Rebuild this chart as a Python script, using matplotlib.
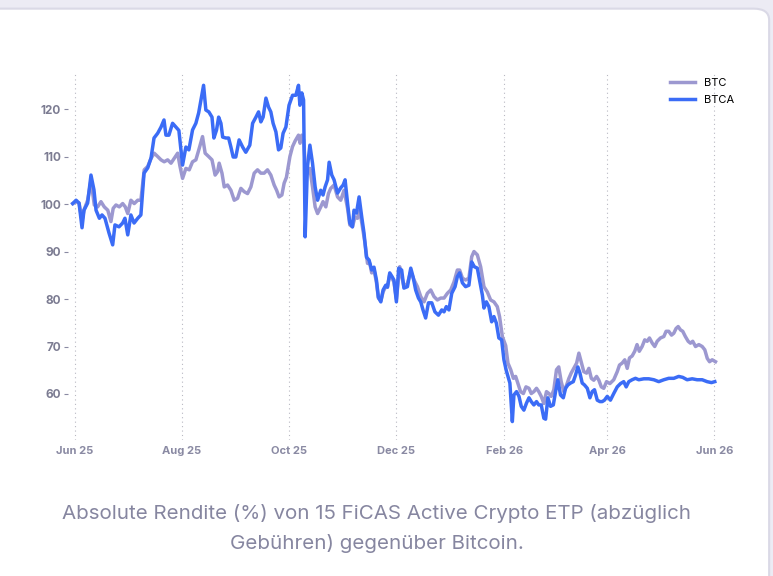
import pandas as pd
import matplotlib
matplotlib.use("Agg")
import matplotlib.pyplot as plt
import matplotlib.dates as mdates
from matplotlib.patches import FancyBboxPatch

# days since 1 Jun 2025 (indexed to 100)
btca_days = [-1.3, 0.6, 2.3, 4.0, 5.1, 7.2, 9.1, 10.8, 12.0, 13.9, 15.4, 17.1, 19.4, 21.5, 22.8,
             25.1, 27.2, 28.5, 30.1, 31.9, 33.7, 35.8, 37.6, 39.4, 41.5, 43.4, 45.1, 47.2, 49.1,
             50.8, 51.9, 53.6, 55.7, 57.6, 59.3, 61.4, 63.3, 65.0, 67.1, 69.0, 70.6, 71.9, 73.4,
             74.7, 76.4, 78.2, 79.3, 80.8, 82.0, 83.3, 84.3, 86.1, 87.7, 89.0, 90.3, 91.8, 93.7,
             95.7, 97.5, 99.8, 101.4, 103.3, 104.8, 106.1, 107.4, 109.0, 110.5, 111.8, 113.1,
             114.7, 116.2, 117.5, 118.8, 120.4, 122.2, 124.2, 126.1, 127.6, 128.4, 129.5, 130.5,
             131.4, 132.7, 134.1, 135.6, 137.1, 138.5, 140.3, 141.6, 142.8, 144.2, 145.1, 146.6,
             147.9, 149.9, 151.7, 153.1, 154.2, 155.6, 156.9, 158.4, 159.3, 160.7, 162.2, 163.7,
             165.0, 166.4, 167.9, 169.4, 170.7, 172.1, 173.2, 174.6, 175.9, 177.4, 178.4, 179.7,
             181.2, 182.1, 183.5, 184.8, 186.5, 187.8, 189.8, 191.7, 193.0, 194.5, 196.1, 197.4,
             198.7, 200.2, 201.8, 203.7, 205.5, 207.5, 209.4, 210.7, 212.0, 213.5, 215.1, 217.0,
             218.3, 219.6, 221.2, 223.0, 224.9, 226.5, 228.0, 229.7, 231.0, 232.6, 233.5, 234.9,
             236.3, 237.9, 239.2, 240.6, 242.0, 243.6, 244.9, 246.2, 248.3, 249.7, 250.6, 252.1,
             253.5, 254.8, 256.3, 257.8, 259.2, 260.5, 262.0, 263.5, 264.8, 266.2, 267.7, 268.7,
             270.0, 271.5, 273.1, 274.4, 275.7, 277.2, 278.8, 280.1, 281.4, 282.9, 284.5, 285.8,
             287.1, 288.3, 289.6, 290.9, 292.5, 294.0, 295.3, 296.6, 298.2, 299.7, 301.0, 302.3,
             303.9, 305.7, 307.6, 309.6, 311.5, 313.3, 314.7, 316.2, 318.1, 320.0, 321.9, 324.8,
             327.6, 330.5, 333.3, 336.2, 339.0, 341.9, 344.7, 347.0, 349.5, 352.4, 355.2, 358.1,
             360.9, 363.4, 365.3]
btca_vals = [100.1, 100.8, 100.2, 95.0, 98.7, 100.2, 106.1, 103.0, 98.7, 97.0, 97.7, 97.0, 93.9, 91.4, 95.6,
             95.2, 96.0, 97.0, 93.5, 97.7, 96.0, 97.0, 97.7, 106.5, 107.6, 109.7, 113.9, 114.9, 116.2,
             117.7, 114.5, 114.5, 117.0, 116.2, 115.5, 108.2, 112.0, 111.4, 115.6, 117.0, 119.2, 121.9, 125.0,
             119.8, 119.4, 118.3, 113.9, 115.6, 118.3, 117.0, 114.1, 113.9, 113.9, 112.0, 109.9, 109.9, 113.5,
             112.0, 110.9, 112.4, 117.0, 118.3, 119.4, 117.3, 118.3, 122.3, 120.4, 119.4, 117.0,
             115.2, 111.4, 111.8, 114.9, 116.2, 120.8, 122.9, 122.9, 125.0, 120.8, 123.4, 121.9,
             93.1, 107.8, 112.4, 108.6, 103.6, 100.8, 102.9, 101.9, 103.6, 105.1, 108.8, 106.1,
             105.1, 102.3, 103.4, 104.0, 105.1, 100.2, 96.0, 95.2, 98.7, 98.1, 101.5, 97.3,
             93.9, 88.8, 88.2, 86.1, 86.7, 84.0, 80.4, 79.4, 81.9, 82.9, 82.5, 85.5,
             84.6, 84.0, 79.4, 86.5, 86.1, 82.3, 82.6, 86.5, 84.7, 81.9, 80.2, 79.4,
             77.7, 76.0, 79.2, 79.2, 77.3, 76.6, 77.7, 77.3, 78.4, 77.7, 81.2, 82.6,
             84.7, 85.5, 83.4, 82.6, 82.9, 87.8, 86.8, 86.5, 84.0, 80.8, 78.1, 79.4,
             78.4, 75.2, 76.3, 74.9, 71.8, 71.4, 67.2, 65.0, 62.3, 54.2, 59.8, 60.5,
             59.5, 57.4, 56.6, 58.1, 59.2, 58.4, 57.7, 58.4, 57.7, 57.7, 54.9, 54.7,
             59.2, 57.4, 57.7, 60.5, 63.0, 59.8, 59.2, 61.2, 61.9, 62.3, 62.6, 64.0,
             65.7, 64.4, 62.3, 61.9, 61.2, 59.2, 60.5, 60.9, 58.7, 58.4, 58.4, 58.7,
             59.5, 58.7, 60.1, 61.5, 62.2, 62.6, 61.5, 62.6, 63.0, 63.3, 63.0, 63.2,
             63.2, 63.0, 62.6, 63.0, 63.3, 63.3, 63.7, 63.5, 63.0, 63.2, 63.0, 63.0,
             62.6, 62.4, 62.6]

btc_days = [-1.3, 0.6, 2.3, 4.0, 5.1, 7.2, 9.1, 11.0, 12.9, 14.8, 16.7, 18.7, 20.5, 21.8, 23.4,
            25.3, 27.2, 28.7, 30.1, 31.9, 33.8, 35.8, 37.6, 39.5, 41.5, 43.4, 45.2, 47.2, 49.1,
            50.9, 52.9, 54.8, 56.6, 58.6, 59.9, 61.4, 63.3, 65.2, 67.1, 69.0, 70.9, 72.8, 74.3,
            76.3, 78.2, 80.0, 81.4, 82.3, 83.9, 85.2, 87.1, 89.0, 90.9, 92.8, 94.7, 96.6, 98.5,
            100.4, 102.3, 104.2, 106.1, 108.0, 109.9, 111.8, 113.7, 115.1, 116.5, 118.1, 119.4,
            120.7, 122.7, 124.2, 125.7, 127.6, 128.5, 129.5, 130.5, 131.4, 132.7, 134.1, 135.6,
            137.1, 138.5, 140.3, 141.6, 143.2, 144.7, 146.0, 147.9, 149.9, 151.7, 153.6, 155.6,
            156.9, 158.4, 159.9, 161.3, 162.6, 164.1, 165.6, 167.0, 168.3, 169.4, 170.7, 172.1,
            173.2, 174.6, 175.9, 177.4, 178.4, 179.7, 181.2, 182.1, 183.5, 185.4, 187.8, 189.8,
            191.7, 193.6, 195.5, 197.4, 199.3, 201.2, 203.1, 205.0, 206.9, 208.8, 210.7, 212.6,
            214.5, 216.4, 218.3, 219.6, 221.2, 223.0, 224.9, 226.5, 227.8, 229.7, 231.6, 233.5,
            235.4, 237.3, 239.2, 241.1, 242.4, 244.0, 245.9, 247.2, 248.8, 250.3, 251.6, 252.9,
            254.4, 256.0, 257.5, 259.2, 260.5, 262.0, 263.5, 264.8, 266.2, 267.7, 269.2, 270.6,
            271.9, 273.4, 274.9, 276.2, 277.6, 279.1, 280.7, 282.0, 283.3, 284.8, 286.4, 287.7,
            289.0, 290.5, 292.1, 293.4, 294.8, 296.2, 297.8, 299.1, 300.5, 301.9, 303.5, 305.4,
            307.6, 309.6, 310.9, 312.4, 313.9, 315.3, 316.6, 318.1, 319.6, 320.9, 322.2, 323.8,
            325.3, 326.7, 328.0, 329.6, 331.0, 332.4, 334.3, 336.2, 337.5, 339.0, 340.6, 341.9,
            343.2, 344.4, 345.7, 347.0, 348.5, 350.1, 351.4, 352.7, 354.3, 356.2, 358.1, 359.6,
            361.0, 362.3, 363.8, 365.7]
btc_vals = [100.1, 100.5, 100.2, 96.5, 98.7, 100.8, 105.0, 99.8, 99.4, 100.5, 99.4, 98.7, 96.3, 99.1, 99.8,
            99.4, 100.1, 99.4, 98.0, 100.8, 100.1, 100.8, 100.8, 107.2, 107.9, 109.6, 110.7, 110.0, 109.3,
            108.9, 109.3, 108.6, 109.6, 110.7, 108.0, 105.4, 107.5, 107.2, 108.9, 109.3, 111.7, 114.2, 110.7,
            110.0, 109.3, 106.1, 106.8, 108.6, 106.5, 103.6, 104.0, 102.9, 100.8, 101.2, 103.3, 102.6, 102.2,
            103.6, 106.5, 107.2, 106.5, 106.5, 107.2, 106.1, 104.0, 102.9, 101.5, 101.9, 104.4,
            105.6, 110.0, 112.1, 113.3, 114.5, 112.8, 114.5, 113.5, 108.6, 106.5, 107.5, 103.6,
            99.4, 98.0, 99.4, 100.5, 99.4, 102.2, 103.3, 104.0, 101.5, 100.8, 102.9, 99.1,
            95.6, 95.2, 97.3, 97.0, 98.7, 95.2, 91.7, 87.5, 87.5, 85.5, 86.2, 83.5,
            80.2, 79.6, 81.5, 82.6, 82.5, 85.2, 84.2, 83.6, 80.0, 86.8, 82.6, 83.3,
            85.8, 84.0, 82.6, 80.5, 79.4, 81.2, 81.9, 80.5, 79.8, 80.2, 80.2, 81.2,
            81.9, 83.6, 86.1, 86.1, 84.4, 84.0, 84.4, 88.9, 90.0, 89.3, 86.8, 82.6,
            81.5, 79.8, 79.4, 78.4, 76.3, 72.1, 70.2, 66.5, 65.1, 63.3, 63.7, 62.2,
            60.5, 60.1, 61.5, 61.2, 60.1, 60.5, 61.2, 60.5, 59.5, 58.0, 60.5, 60.1,
            59.5, 60.9, 65.1, 65.7, 62.6, 60.5, 61.9, 63.3, 64.4, 65.4, 66.5, 68.6,
            66.8, 64.7, 64.4, 65.4, 63.3, 62.9, 63.7, 62.9, 61.5, 61.2, 62.6, 62.2,
            63.0, 64.7, 66.1, 66.5, 67.2, 65.4, 67.6, 68.0, 69.0, 70.4, 69.0, 70.0,
            71.4, 71.1, 71.8, 70.7, 70.0, 71.1, 71.8, 72.1, 73.2, 73.2, 72.4, 72.8,
            73.8, 74.2, 73.5, 73.2, 72.1, 71.1, 70.7, 71.1, 70.0, 70.4, 70.0, 69.3,
            67.5, 66.8, 67.2, 66.8]

start = pd.Timestamp("2025-06-01")
btc_dates = start + pd.to_timedelta(btc_days, unit="D")
btca_dates = start + pd.to_timedelta(btca_days, unit="D")

tick_dates = pd.to_datetime(["2025-06-01", "2025-08-01", "2025-10-01", "2025-12-01",
                             "2026-02-01", "2026-04-01", "2026-06-01"])
y_ticks = [60, 70, 80, 90, 100, 110, 120]

caption = ("Absolute Rendite (%) von 15 FiCAS Active Crypto ETP (abzüglich\n"
           "Gebühren) gegenüber Bitcoin.")

plt.rcParams["font.family"] = ["Inter", "DejaVu Sans"]

fig = plt.figure(figsize=(7.73, 5.76), dpi=100, facecolor="#ecebf4")

# white card behind the chart
card = FancyBboxPatch((-0.05, -0.1), 1.045, 1.085, boxstyle="round,pad=0,rounding_size=0.02",
                      transform=fig.transFigure, facecolor="white", edgecolor="#dad9e6",
                      linewidth=1.5, zorder=-10)
fig.patches.append(card)

ax = fig.add_axes([0.088, 0.236, 0.87, 0.639])
ax.set_zorder(5)
ax.patch.set_alpha(0)

ax.plot(btc_dates, btc_vals, color="#9c98d0", lw=2.5, label="BTC")
ax.plot(btca_dates, btca_vals, color="#3b6cf6", lw=2.5, label="BTCA")

ax.set_xlim(start - pd.Timedelta(days=4), start + pd.Timedelta(days=380))
ax.set_ylim(50.3, 127.8)

ax.set_xticks(tick_dates)
ax.xaxis.set_major_formatter(mdates.DateFormatter("%b %y"))
ax.set_yticks(y_ticks)

for s in ax.spines.values():
    s.set_visible(False)

ax.grid(axis="x", color="#b8b8c2", linestyle=(0, (1, 3)), linewidth=0.8)
ax.tick_params(axis="x", length=0, pad=4, labelsize=8, labelcolor="#8a8aa3")
ax.tick_params(axis="y", length=3, width=0.8, color="#8a8aa3", pad=2,
               labelsize=8.5, labelcolor="#7c7c92")
for lbl in ax.get_xticklabels() + ax.get_yticklabels():
    lbl.set_fontweight("bold")

ax.legend(loc="upper right", bbox_to_anchor=(1.005, 1.01), frameon=False, fontsize=8,
          handlelength=2.2, handletextpad=0.8, labelspacing=0.6)

fig.text(0.487, 0.083, caption, ha="center", va="center", fontsize=14.8,
         color="#8686a0", linespacing=1.75)

fig.savefig("out.png", dpi=100, facecolor=fig.get_facecolor())
